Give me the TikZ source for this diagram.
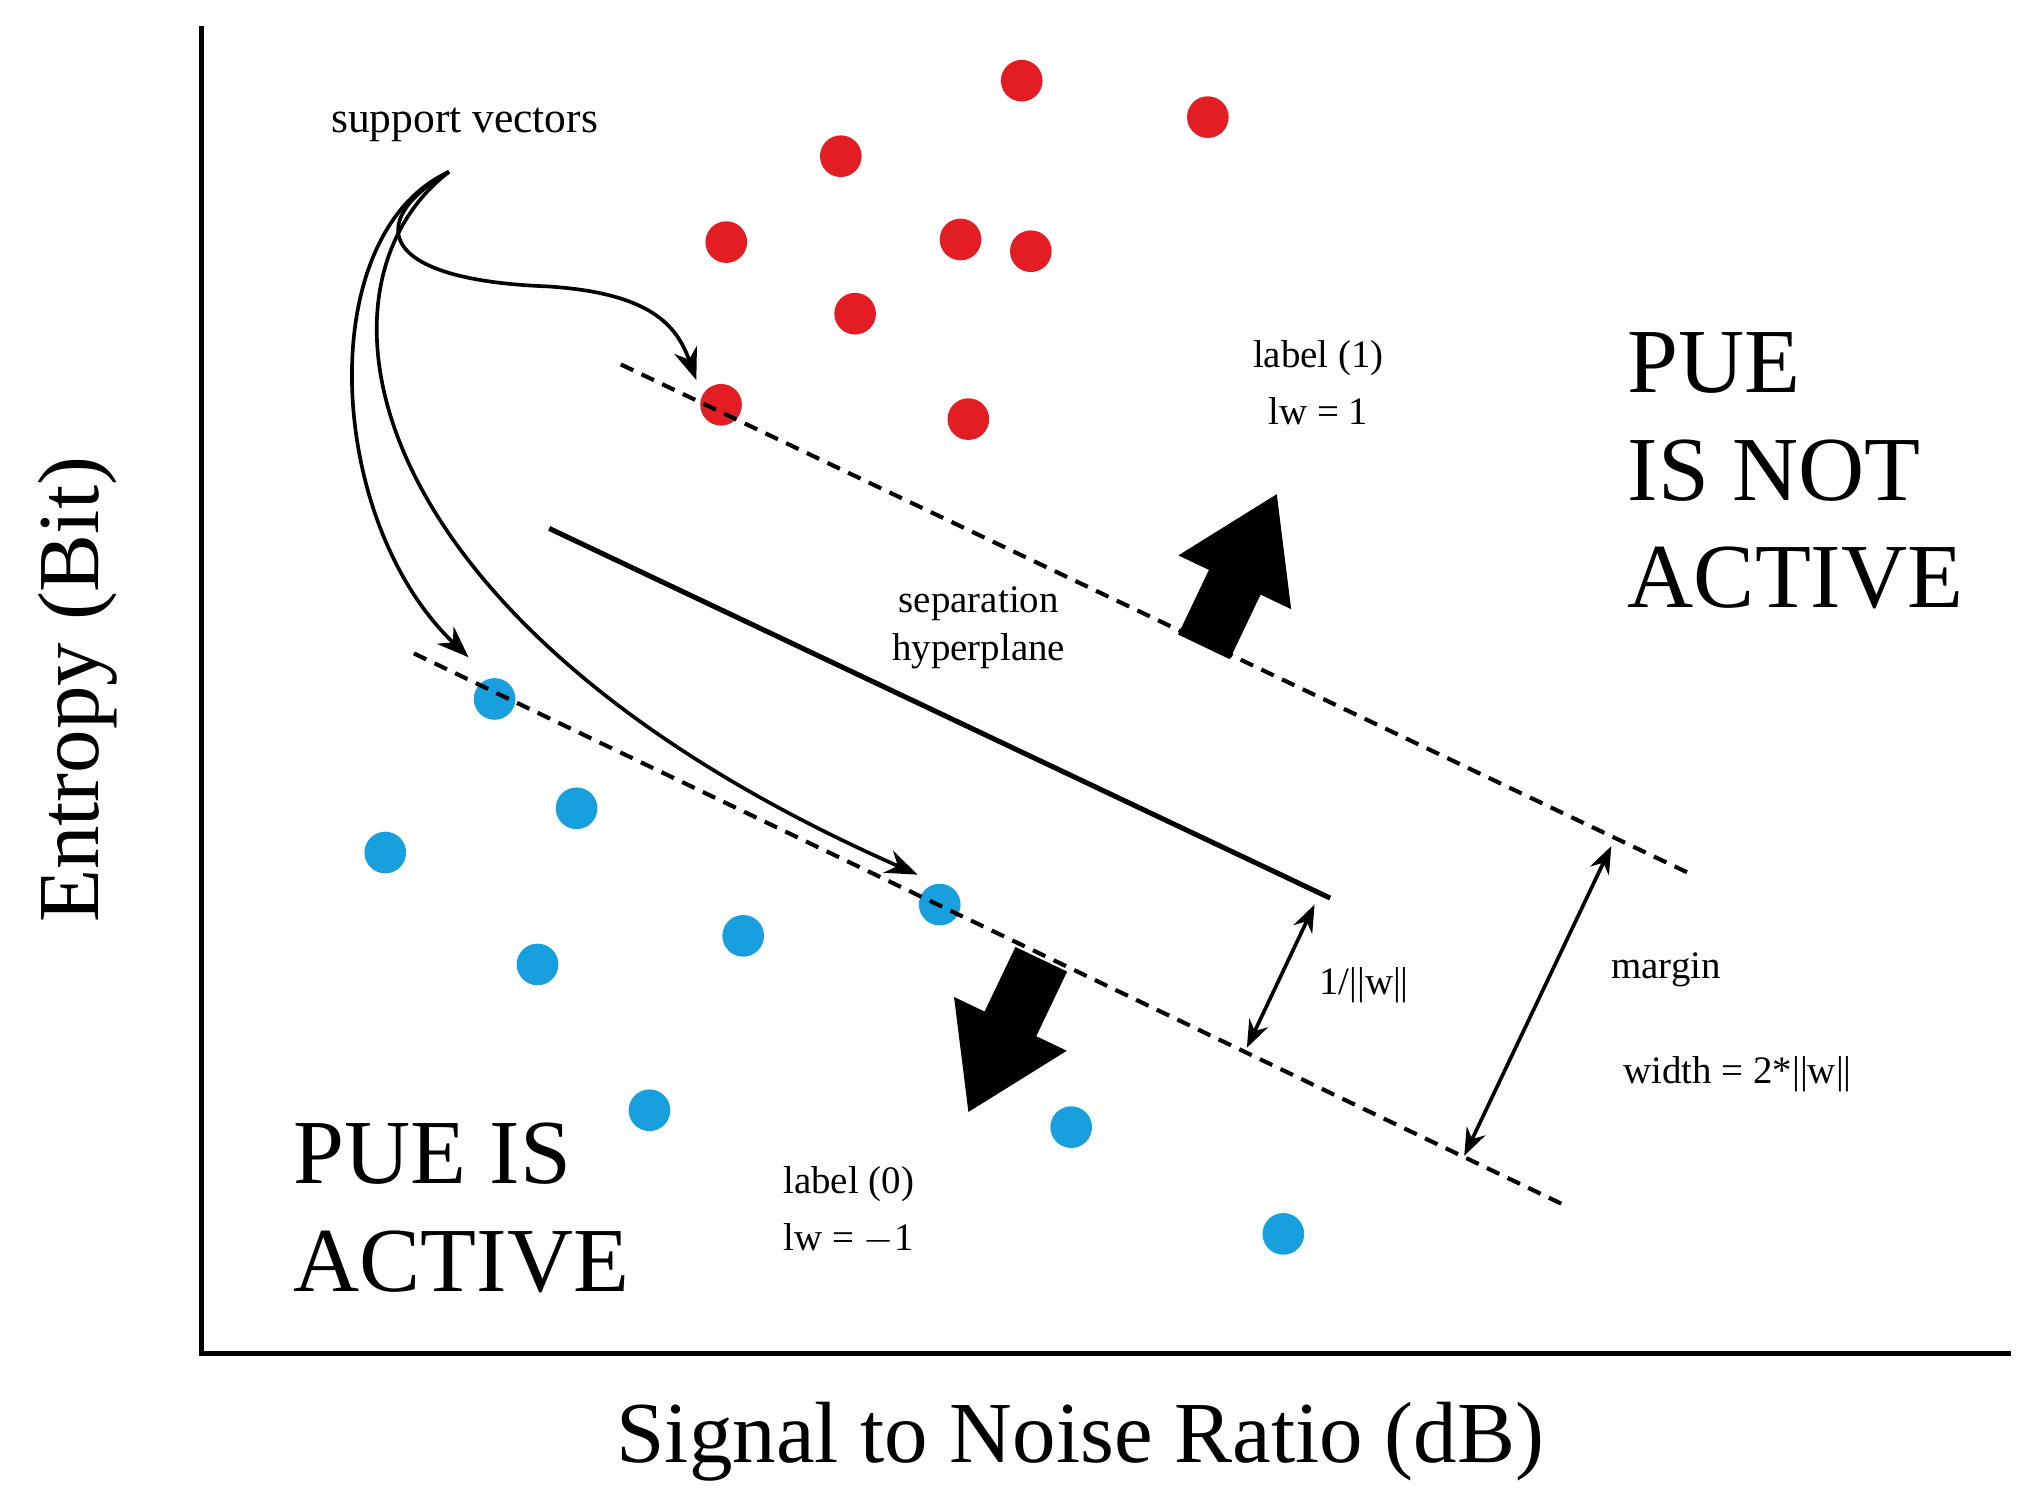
\documentclass[tikz,border=0pt]{standalone}
\usepackage{fontspec}
\setmainfont{Liberation Serif}
\usetikzlibrary{arrows.meta}
\definecolor{rdot}{RGB}{226,30,36}
\definecolor{bdot}{RGB}{24,160,222}
\begin{document}
\begin{tikzpicture}[x=0.01cm,y=-0.01cm,
  rpt/.style={circle,fill=rdot,minimum size=0.32cm,inner sep=0},
  bpt/.style={circle,fill=bdot,minimum size=0.32cm,inner sep=0},
  lbl/.style={font=\fontsize{8.5}{10.5}\selectfont,align=center},
  big/.style={font=\fontsize{20}{23.5}\selectfont,align=left},
  dline/.style={densely dashed,line width=0.9pt},
  sv/.style={-{Stealth[length=7pt]},line width=0.8pt}]
\useasboundingbox (0,0) rectangle (1552,1148);
\draw[line width=1.2pt] (155,20) -- (155,1040) -- (1545,1040);
\node[rotate=90,font=\fontsize{19}{23}\selectfont] (ylab) at (60,530) {Entropy (Bit)};
\node[font=\fontsize{19}{23}\selectfont] (xlab) at (830,1108) {Signal to Noise Ratio (dB)};
\foreach \n/\p in {r1/{(785,62)},r2/{(928,90)},r3/{(646,120)},r4/{(558,186)},r5/{(738,184)},r6/{(792,193)},r7/{(657,241)},r8/{(554,311)},r9/{(744,322)}}
  \node[rpt] (\n) at \p {};
\foreach \n/\p in {b1/{(380,537)},b2/{(443,621)},b3/{(296,655)},b4/{(571,719)},b5/{(413,741)},b6/{(722,695)},b7/{(499,853)},b8/{(823,866)},b9/{(986,948)}}
  \node[bpt] (\n) at \p {};
\coordinate (u1) at (477,280); \coordinate (u2) at (1300,672);
\coordinate (l1) at (318,502); \coordinate (l2) at (1200,925);
\coordinate (h1) at (422,406); \coordinate (h2) at (1022,690);
\draw[dline] (u1) -- (u2);
\draw[dline] (l1) -- (l2);
\draw[line width=1.1pt] (h1) -- (h2);
\node[lbl,font=\fontsize{9.5}{11}\selectfont] (sv) at (357,96) {support vectors};
\coordinate (s0) at (345,132);
\coordinate (t1) at (535,292); \coordinate (t2) at (360,505); \coordinate (t3) at (705,672);
\draw[sv] (s0) .. controls (280,170) and (290,215) .. (420,220) .. controls (500,225) and (520,250) .. (t1);
\draw[sv] (s0) .. controls (240,180) and (250,400) .. (t2);
\draw[sv] (s0) .. controls (230,220) and (270,480) .. (t3);
\begin{scope}[shift={(925,497)},rotate=64.5]
\fill (0,22) -- (55,22) -- (55,48) -- (130,0) -- (55,-48) -- (55,-22) -- (0,-22) -- cycle;
\end{scope}
\begin{scope}[shift={(800,737)},rotate=-115.5]
\fill (0,22) -- (55,22) -- (55,48) -- (130,0) -- (55,-48) -- (55,-22) -- (0,-22) -- cycle;
\end{scope}
\coordinate (a1) at (1010,695); \coordinate (a2) at (958,805);
\coordinate (m1) at (1238,650); \coordinate (m2) at (1125,888);
\draw[{Stealth[length=6pt]}-{Stealth[length=6pt]},line width=0.8pt] (a1) -- (a2);
\draw[{Stealth[length=6pt]}-{Stealth[length=6pt]},line width=0.8pt] (m1) -- (m2);
\node[lbl] (l1l) at (1013,294) {label (1)\\[2pt]lw = 1};
\node[lbl] (sep) at (752,482) {separation\\hyperplane};
\node[lbl] (w1) at (1048,757) {1/||w||};
\node[lbl] (mg) at (1280,745) {margin};
\node[lbl] (wd) at (1335,825) {width = 2*||w||};
\node[lbl] (l0l) at (652,930) {label (0)\\[2pt]lw = $-$1};
\node[big,anchor=north west,inner sep=0] (pna) at (1250,255) {PUE\\IS NOT\\ACTIVE};
\node[big,anchor=north west,inner sep=0] (pa) at (225,862) {PUE IS\\ACTIVE};
\end{tikzpicture}
\end{document}
